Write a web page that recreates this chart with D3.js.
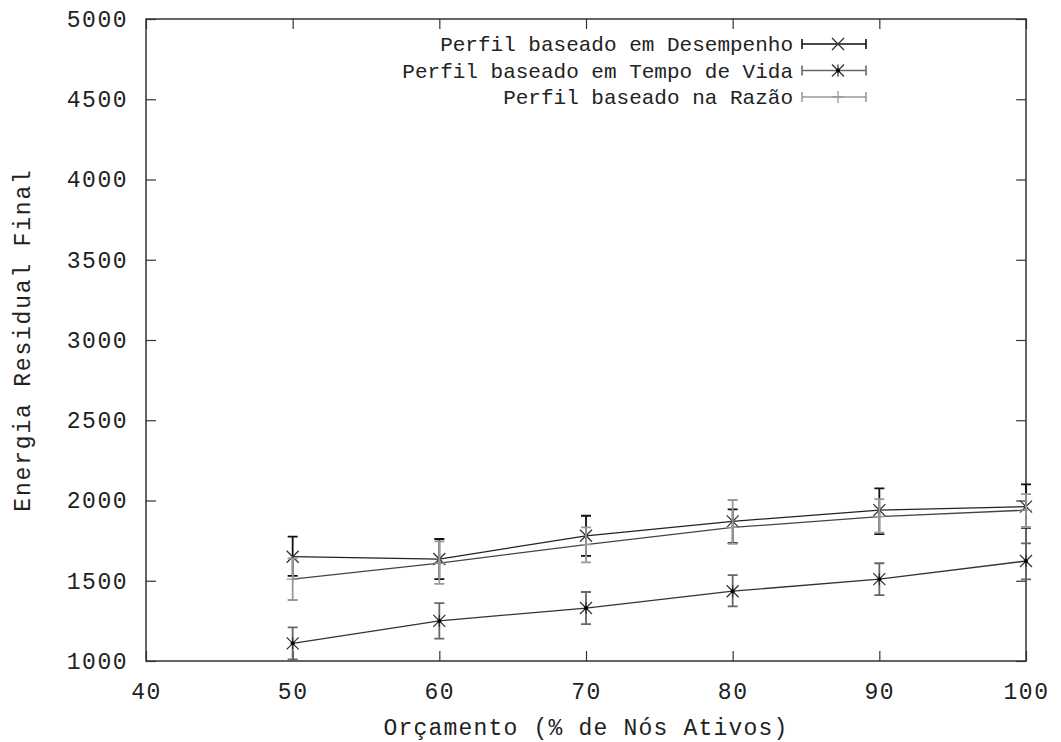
<!DOCTYPE html>
<html>
<head>
<meta charset="utf-8">
<script src="https://cdn.jsdelivr.net/npm/d3@7"></script>
<style>
  body { margin: 0; background: #fff; }
  text { font-family: "Liberation Mono", "DejaVu Sans Mono", monospace; fill: #222; }
</style>
</head>
<body>
<script>
// data
var budget = [50, 60, 70, 80, 90, 100];

var desempenho = [1650, 1635, 1780, 1870, 1940, 1962];
var desempenhoLow = [1530, 1510, 1655, 1735, 1790, 1830];
var desempenhoHigh = [1775, 1760, 1905, 1945, 2076, 2100];

var tempoVida = [1110, 1250, 1330, 1435, 1510, 1623];
var tempoVidaLow = [1010, 1140, 1230, 1340, 1411, 1509];
var tempoVidaHigh = [1210, 1360, 1430, 1535, 1609, 1733];

var razao = [1510, 1610, 1725, 1832, 1900, 1940];
var razaoLow = [1380, 1480, 1615, 1730, 1800, 1835];
var razaoHigh = [1640, 1745, 1833, 2003, 2009, 2040];

var xTicks = [40, 50, 60, 70, 80, 90, 100];
var yTicks = [1000, 1500, 2000, 2500, 3000, 3500, 4000, 4500, 5000];

var series = [
  {name: "Perfil baseado em Desempenho", values: desempenho, low: desempenhoLow, high: desempenhoHigh,
   line: "#222", bar: "#111", marker: "x"},
  {name: "Perfil baseado em Tempo de Vida", values: tempoVida, low: tempoVidaLow, high: tempoVidaHigh,
   line: "#333", bar: "#666", marker: "star"},
  {name: "Perfil baseado na Razão", values: razao, low: razaoLow, high: razaoHigh,
   line: "#444", bar: "#999", marker: "plus"}
];

var width = 1061, height = 742;
var margin = {top: 19, right: 35, bottom: 81, left: 146};

var svg = d3.select("body").append("svg")
  .attr("width", width)
  .attr("height", height);

var x = d3.scaleLinear().domain([40, 100]).range([margin.left, width - margin.right]);
var y = d3.scaleLinear().domain([1000, 5000]).range([height - margin.bottom, margin.top]);

var tickLen = 10;
var frame = "#333";

// axes with inward ticks
var xAxis = svg.append("g")
  .attr("transform", "translate(0," + y.range()[0] + ")")
  .call(d3.axisBottom(x).tickValues(xTicks).tickFormat(d3.format("d"))
    .tickSize(-tickLen).tickPadding(tickLen + 12).tickSizeOuter(0));
var xAxisTop = svg.append("g")
  .attr("transform", "translate(0," + y.range()[1] + ")")
  .call(d3.axisTop(x).tickValues(xTicks).tickSize(-tickLen).tickFormat("").tickSizeOuter(0));
var yAxis = svg.append("g")
  .attr("transform", "translate(" + x.range()[0] + ",0)")
  .call(d3.axisLeft(y).tickValues(yTicks).tickFormat(d3.format("d"))
    .tickSize(-tickLen).tickPadding(tickLen + 8).tickSizeOuter(0));
var yAxisRight = svg.append("g")
  .attr("transform", "translate(" + x.range()[1] + ",0)")
  .call(d3.axisRight(y).tickValues(yTicks).tickSize(-tickLen).tickFormat("").tickSizeOuter(0));

[xAxis, xAxisTop, yAxis, yAxisRight].forEach(function(g) {
  g.select(".domain").remove();
  g.selectAll(".tick line").attr("stroke", frame).attr("stroke-width", 1.2);
  g.selectAll("text")
    .style("font-family", "'Liberation Mono', monospace")
    .style("font-size", "23px")
    .style("letter-spacing", "1.5px")
    .attr("fill", "#2a2a2a");
});

// frame
svg.append("rect")
  .attr("x", x.range()[0])
  .attr("y", y.range()[1])
  .attr("width", x.range()[1] - x.range()[0])
  .attr("height", y.range()[0] - y.range()[1])
  .attr("fill", "none")
  .attr("stroke", frame)
  .attr("stroke-width", 1.5);

// axis labels
svg.append("text")
  .attr("x", (x.range()[0] + x.range()[1]) / 2)
  .attr("y", 735)
  .attr("text-anchor", "middle")
  .style("font-size", "23px")
  .style("letter-spacing", "1.2px")
  .text("Orçamento (% de Nós Ativos)");

svg.append("text")
  .attr("transform", "translate(30," + (y.range()[0] + y.range()[1]) / 2 + ") rotate(-90)")
  .attr("text-anchor", "middle")
  .style("font-size", "23px")
  .style("letter-spacing", "1.8px")
  .text("Energia Residual Final");

function drawMarker(g, type, cx, cy, color) {
  var s = 6;
  if (type === "x" || type === "star") {
    g.append("path")
      .attr("d", "M" + (cx - s) + "," + (cy - s) + "L" + (cx + s) + "," + (cy + s) +
                 "M" + (cx - s) + "," + (cy + s) + "L" + (cx + s) + "," + (cy - s))
      .attr("stroke", color).attr("stroke-width", 1.3).attr("fill", "none");
  }
  if (type === "star") {
    g.append("path")
      .attr("d", "M" + cx + "," + (cy - s) + "L" + cx + "," + (cy + s))
      .attr("stroke", color).attr("stroke-width", 1.3);
    g.append("circle").attr("cx", cx).attr("cy", cy).attr("r", 2).attr("fill", "#000");
  }
  if (type === "plus") {
    g.append("path")
      .attr("d", "M" + cx + "," + (cy - s) + "L" + cx + "," + (cy + s) +
                 "M" + (cx - s) + "," + cy + "L" + (cx + s) + "," + cy)
      .attr("stroke", color).attr("stroke-width", 1.3);
  }
}

var line = d3.line()
  .x(function(d) { return x(d[0]); })
  .y(function(d) { return y(d[1]); });

var cap = 5;

series.forEach(function(s) {
  var g = svg.append("g");
  var pts = budget.map(function(b, i) { return [b, s.values[i]]; });

  // error bars
  budget.forEach(function(b, i) {
    var bx = x(b);
    var path = "M" + bx + "," + y(s.low[i]) + "L" + bx + "," + y(s.high[i]) +
      "M" + (bx - cap) + "," + y(s.low[i]) + "L" + (bx + cap) + "," + y(s.low[i]) +
      "M" + (bx - cap) + "," + y(s.high[i]) + "L" + (bx + cap) + "," + y(s.high[i]);
    g.append("path").attr("d", path)
      .attr("stroke", s.bar).attr("stroke-width", 1.8).attr("fill", "none");
  });

  g.append("path")
    .datum(pts)
    .attr("d", line)
    .attr("fill", "none")
    .attr("stroke", s.line)
    .attr("stroke-width", 1.3);

  pts.forEach(function(p) {
    drawMarker(g, s.marker, x(p[0]), y(p[1]), s.marker === "plus" ? s.bar : "#333");
  });
});

// legend
var legendRight = 793, sampleX0 = 802, sampleX1 = 866;
series.forEach(function(s, i) {
  var ly = 44 + i * 26.5;
  svg.append("text")
    .attr("x", legendRight)
    .attr("y", ly)
    .attr("dy", "0.35em")
    .attr("text-anchor", "end")
    .style("font-size", "21px")
    .text(s.name);
  var g = svg.append("g");
  g.append("path")
    .attr("d", "M" + sampleX0 + "," + ly + "L" + sampleX1 + "," + ly +
      "M" + sampleX0 + "," + (ly - cap) + "L" + sampleX0 + "," + (ly + cap) +
      "M" + sampleX1 + "," + (ly - cap) + "L" + sampleX1 + "," + (ly + cap))
    .attr("stroke", s.bar)
    .attr("stroke-width", 1.6)
    .attr("fill", "none");
  drawMarker(g, s.marker, (sampleX0 + sampleX1) / 2 + 4, ly, s.marker === "plus" ? s.bar : "#333");
});
</script>
</body>
</html>
